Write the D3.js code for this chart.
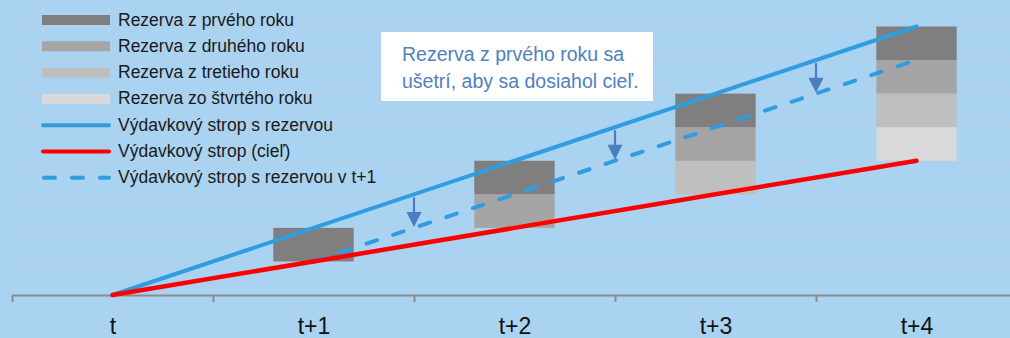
<!DOCTYPE html>
<html>
<head>
<meta charset="utf-8">
<script src="https://cdn.jsdelivr.net/npm/d3@7"></script>
<style>
  html, body { margin: 0; padding: 0; background: #aad2f1; }
  svg { display: block; font-family: "Liberation Sans", Arial, sans-serif; }
</style>
</head>
<body>
<svg id="chart" width="1010" height="338"></svg>
<script>
// Periods on the horizontal axis
const periods = ["t", "t+1", "t+2", "t+3", "t+4"];

// Stacked reserve blocks per period (invisible base, then 4th..1st year reserve)
const reserveBase   = [0, 1, 2, 3, 4];
const reserveYear4  = [0, 0, 0, 0, 1];
const reserveYear3  = [0, 0, 0, 1, 1];
const reserveYear2  = [0, 0, 1, 1, 1];
const reserveYear1  = [0, 1, 1, 1, 1];

// Spending ceilings
const ceilingWithReserve     = [0, 2, 4, 6, 8];
const ceilingTarget          = [0, 1, 2, 3, 4];
const ceilingWithReserveNext = [null, 1, 3, 5, 7];

// Savings arrows between periods (position, from value, to value)
const arrowPos  = [1.5, 2.5, 3.5];
const arrowFrom = [3, 5, 7];
const arrowTo   = [2, 4, 6];

const gridValues = [1, 2, 3, 4, 5, 6, 7, 8];

const legendLabels = [
  "Rezerva z prvého roku",
  "Rezerva z druhého roku",
  "Rezerva z tretieho roku",
  "Rezerva zo štvrtého roku",
  "Výdavkový strop s rezervou",
  "Výdavkový strop (cieľ)",
  "Výdavkový strop s rezervou v t+1"
];

const noteLines = ["Rezerva z prvého roku sa", "ušetrí, aby sa dosiahol cieľ."];

const colors = {
  year1: "#7f7f7f",
  year2: "#a5a5a5",
  year3: "#bfbfbf",
  year4: "#d9d9d9",
  blue: "#2f9de0",
  red: "#ff0000",
  arrow: "#4a7ec0",
  grid: "#c2cad3",
  axis: "#8c8c8c"
};

const svg = d3.select("#chart");

const x = d3.scaleLinear().domain([-0.5, 4.5]).range([12, 1017]);
const y = d3.scaleLinear().domain([0, 8]).range([295, 26.5]);

// Horizontal dashed gridlines
svg.append("g")
  .selectAll("line")
  .data(gridValues)
  .join("line")
  .attr("x1", 12).attr("x2", 1010)
  .attr("y1", d => Math.round(y(d)) + 0.5)
  .attr("y2", d => Math.round(y(d)) + 0.5)
  .attr("stroke", colors.grid)
  .attr("stroke-width", 1)
  .attr("stroke-dasharray", "3,2");

// Stacked reserve bars
const stackRows = periods.map((p, i) => ({
  period: i,
  base: reserveBase[i],
  year4: reserveYear4[i],
  year3: reserveYear3[i],
  year2: reserveYear2[i],
  year1: reserveYear1[i]
}));
const keys = ["base", "year4", "year3", "year2", "year1"];
const series = d3.stack().keys(keys)(stackRows);
const barHalf = 0.2;

svg.append("g")
  .selectAll("g")
  .data(series.filter(s => s.key !== "base"))
  .join("g")
  .attr("fill", s => colors[s.key])
  .selectAll("rect")
  .data(s => s.filter(d => d[1] - d[0] > 0))
  .join("rect")
  .attr("x", d => x(d.data.period - barHalf))
  .attr("width", d => x(d.data.period + barHalf) - x(d.data.period - barHalf))
  .attr("y", d => y(d[1]))
  .attr("height", d => y(d[0]) - y(d[1]));

// Axis with boundary ticks
const axis = svg.append("g")
  .attr("transform", `translate(0,${y(0)})`)
  .call(d3.axisBottom(x)
    .tickValues(d3.range(-0.5, 5, 1))
    .tickSize(7)
    .tickSizeOuter(0)
    .tickFormat(""));
axis.selectAll("path, line").attr("stroke", colors.axis).attr("stroke-width", 2);

// Period labels
const labels = svg.append("g")
  .attr("transform", `translate(0,${y(0)})`)
  .call(d3.axisBottom(x)
    .tickValues(d3.range(0, 5))
    .tickSize(0)
    .tickPadding(23)
    .tickFormat(i => periods[i]));
labels.select(".domain").remove();
labels.selectAll("text")
  .attr("font-size", 23)
  .attr("font-family", "Liberation Sans, Arial, sans-serif")
  .attr("fill", "#111");

// Ceiling lines
const line = d3.line()
  .defined(d => d.v !== null)
  .x(d => x(d.i))
  .y(d => y(d.v));
const toPts = arr => arr.map((v, i) => ({ i, v }));

svg.append("path")
  .datum(toPts(ceilingWithReserveNext))
  .attr("d", line)
  .attr("fill", "none")
  .attr("stroke", colors.blue)
  .attr("stroke-width", 4)
  .attr("stroke-linecap", "round")
  .attr("stroke-dasharray", "11,17");

svg.append("path")
  .datum(toPts(ceilingWithReserve))
  .attr("d", line)
  .attr("fill", "none")
  .attr("stroke", colors.blue)
  .attr("stroke-width", 4)
  .attr("stroke-linecap", "round");

svg.append("path")
  .datum(toPts(ceilingTarget))
  .attr("d", line)
  .attr("fill", "none")
  .attr("stroke", colors.red)
  .attr("stroke-width", 4.5)
  .attr("stroke-linecap", "round");

// Savings arrows
const arrows = svg.append("g")
  .selectAll("g")
  .data(arrowPos.map((p, k) => ({ p, from: arrowFrom[k], to: arrowTo[k] })))
  .join("g");
arrows.append("line")
  .attr("x1", d => x(d.p)).attr("x2", d => x(d.p))
  .attr("y1", d => y(d.from) + 3)
  .attr("y2", d => y(d.to) - 12)
  .attr("stroke", colors.arrow)
  .attr("stroke-width", 2.2);
arrows.append("path")
  .attr("d", d => {
    const cx = x(d.p), ty = y(d.to) - 1;
    return `M${cx - 7.5},${ty - 15}L${cx + 7.5},${ty - 15}L${cx},${ty}Z`;
  })
  .attr("fill", colors.arrow);

// Legend
const legendY0 = 20, legendStep = 26.3;
const legend = svg.append("g");
const swatchKeys = ["year1", "year2", "year3", "year4"];
legendLabels.forEach((label, k) => {
  const cy = legendY0 + k * legendStep;
  if (k < 4) {
    legend.append("rect")
      .attr("x", 42).attr("y", cy - 5)
      .attr("width", 68).attr("height", 10)
      .attr("fill", colors[swatchKeys[k]]);
  } else {
    const ln = legend.append("line")
      .attr("x1", 43).attr("x2", 109)
      .attr("y1", cy).attr("y2", cy)
      .attr("stroke", k === 5 ? colors.red : colors.blue)
      .attr("stroke-width", 4)
      .attr("stroke-linecap", "round");
    if (k === 6) ln.attr("stroke-dasharray", "11,17").attr("x1", 44);
  }
  legend.append("text")
    .attr("x", 118).attr("y", cy + 5.5)
    .attr("font-size", 17.5)
    .attr("fill", "#1a1a1a")
    .text(label);
});

// Note box
const note = svg.append("g");
note.append("rect")
  .attr("x", 381).attr("y", 32)
  .attr("width", 272).attr("height", 69)
  .attr("fill", "#ffffff");
note.selectAll("text")
  .data(noteLines)
  .join("text")
  .attr("x", 402)
  .attr("y", (d, k) => 61 + k * 27)
  .attr("font-size", 19.5)
  .attr("fill", "#4f81bd")
  .text(d => d);
</script>
</body>
</html>
